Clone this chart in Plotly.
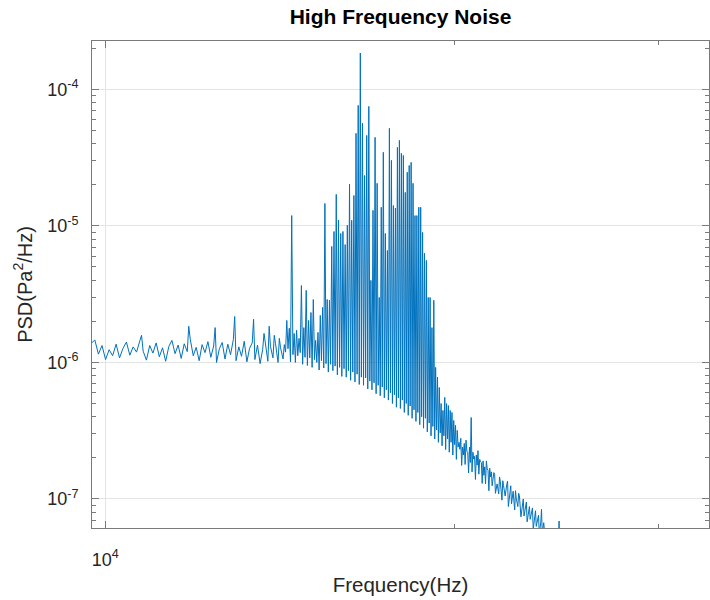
import plotly.graph_objects as go

# ---- noise-floor bins (Hz) lying between the tonal lines ----
noise_freq = [
    9723, 9794, 9864, 9935, 10005, 10076, 10146, 10217, 10287, 10358,
    10428, 10499, 10569, 10640, 10710, 10781, 10851, 10922, 10992, 11063,
    11133, 11204, 11274, 11345, 11415, 11486, 11556, 11627, 11697, 11768,
    11838, 11909, 11979, 12050, 12120, 12191, 12261, 12332, 12402, 12473,
    12543, 12614, 12684, 12755, 12825, 12896, 12966, 13037, 13107, 13178,
    13248, 13319, 13389, 13460, 13530, 13601, 13671, 13742, 13812, 13883,
    13953, 14024, 14094, 14165, 14235, 14306, 14376, 14447,
    14517, 14588, 14658, 14729, 14799, 14870, 14940, 15011, 15081, 15152,
    15222, 15293, 15363, 15434, 15504, 15575, 15645, 15716, 15786, 15857,
    15927, 15998, 16068, 16139, 16209, 16280, 16350, 16421, 16491, 16562,
    16632, 16703, 16773, 16844, 16914, 16985, 17055, 17126, 17196, 17267,
    17337, 17408, 17478, 17549, 17619, 17690, 17760, 17831, 17901, 17972,
    18042, 18113, 18183, 18254, 18324, 18395, 18465, 18536, 18606, 18677,
    18747, 18818, 18888, 18959, 19029, 19100, 19170, 19241, 19311, 19382,
    19452, 19523, 19593, 19664, 19734, 19805, 19875, 19946, 20016, 20087,
    20157, 20228, 20298, 20369, 20439, 20510, 20580, 20651, 20721, 20792,
    20862, 20933, 21003, 21074, 21144, 21215, 21285, 21356, 21426, 21497,
    21567, 21638, 21708, 21779, 21849, 21920, 21990, 22061, 22131, 22202,
    22272, 22343, 22413, 22484, 22554, 22625, 22695, 22766, 22836, 22907,
    22977, 23048, 23118, 23189, 23259, 23330, 23400, 23471, 23541, 23612,
    23682, 23753, 23823, 23894, 23964, 24035, 24105, 24176, 24246, 24317,
    24387, 24458, 24528, 24599, 24669, 24740,
]
noise_psd = [
    1.38e-6, 1.46e-6, 1.15e-6, 1.33e-6, 1.05e-6, 1.24e-6, 1.12e-6, 1.36e-6, 1.08e-6, 1.27e-6,
    1.41e-6, 1.13e-6, 1.30e-6, 1.19e-6, 1.44e-6, 1.21e-6, 1.04e-6, 1.33e-6, 1.17e-6, 1.39e-6,
    1.10e-6, 1.28e-6, 1.02e-6, 1.31e-6, 1.45e-6, 1.16e-6, 1.34e-6, 1.07e-6, 1.37e-6, 1.20e-6,
    1.48e-6, 1.12e-6, 1.29e-6, 1.03e-6, 1.35e-6, 1.18e-6, 1.42e-6, 1.09e-6, 1.32e-6, 1.00e-6,
    1.26e-6, 1.40e-6, 1.06e-6, 1.36e-6, 1.14e-6, 1.47e-6, 1.03e-6, 1.30e-6, 1.11e-6, 1.43e-6,
    1.01e-6, 1.27e-6, 1.39e-6, 1.05e-6, 1.34e-6, 9.8e-7, 1.25e-6, 1.41e-6, 1.02e-6, 1.31e-6,
    1.08e-6, 1.37e-6, 1.00e-6, 1.28e-6, 1.06e-6, 1.19e-6, 1.26e-6, 1.01e-6,
    1.14e-6, 1.00e-6, 1.12e-6, 1.18e-6, 9.7e-7, 1.09e-6, 9.5e-7, 1.08e-6, 9.2e-7, 1.05e-6,
    1.00e-6, 8.8e-7, 1.03e-6, 9.1e-7, 9.8e-7, 8.5e-7, 9.7e-7, 8.7e-7, 9.4e-7, 8.1e-7,
    9.2e-7, 7.9e-7, 9.0e-7, 7.8e-7, 8.7e-7, 7.4e-7, 8.5e-7, 7.2e-7, 8.2e-7, 6.9e-7,
    7.8e-7, 6.8e-7, 7.7e-7, 6.4e-7, 7.3e-7, 6.3e-7, 7.1e-7, 5.9e-7, 6.8e-7, 5.7e-7,
    6.6e-7, 5.5e-7, 6.3e-7, 5.3e-7, 6.0e-7, 5.0e-7, 5.8e-7, 4.7e-7, 5.5e-7, 4.6e-7,
    5.3e-7, 4.3e-7, 5.0e-7, 4.1e-7, 4.8e-7, 3.9e-7, 4.5e-7, 3.7e-7, 4.3e-7, 3.5e-7,
    4.0e-7, 3.3e-7, 3.9e-7, 3.1e-7, 3.6e-7, 2.9e-7, 3.4e-7, 2.75e-7, 3.2e-7, 2.6e-7,
    3.05e-7, 2.45e-7, 2.9e-7, 2.3e-7, 2.75e-7, 2.2e-7, 2.6e-7, 2.1e-7, 2.5e-7, 1.95e-7,
    2.4e-7, 2.31e-7, 1.76e-7, 2.10e-7, 1.79e-7, 2.24e-7, 1.55e-7, 1.85e-7, 1.58e-7, 1.96e-7,
    1.39e-7, 1.77e-7, 1.52e-7, 1.87e-7, 1.30e-7, 1.49e-7, 1.29e-7, 1.66e-7, 1.15e-7, 1.45e-7,
    1.25e-7, 1.56e-7, 1.10e-7, 1.29e-7, 1.09e-7, 1.34e-7, 9.8e-8, 1.25e-7, 1.05e-7, 1.28e-7,
    8.8e-8, 1.08e-7, 9.2e-8, 1.14e-7, 8.3e-8, 1.01e-7, 8.8e-8, 1.06e-7, 7.4e-8, 8.8e-8,
    7.5e-8, 9.2e-8, 6.8e-8, 8.4e-8, 7.1e-8, 8.6e-8, 6.0e-8, 7.4e-8, 6.3e-8, 7.5e-8,
    5.6e-8, 6.7e-8, 5.6e-8, 6.7e-8, 5.1e-8, 6.0e-8, 5.2e-8, 6.0e-8, 4.7e-8, 5.4e-8,
    4.7e-8, 5.4e-8, 4.3e-8, 4.8e-8, 4.1e-8, 4.6e-8,
]

# ---- tonal lines (Hz) and their peak PSD ----
tone_freq = [
    10746, 11803, 12438, 12931, 13425, 13707, 13848, 13989, 14130,
    14271, 14341, 14412,
    14482, 14553, 14623, 14694, 14764, 14835, 14905, 14976, 15046, 15117,
    15187, 15258, 15328, 15399, 15469, 15540, 15610, 15681, 15751, 15822,
    15892, 15963, 16033, 16104, 16174, 16245, 16315, 16386, 16456, 16527,
    16597, 16668, 16738, 16809, 16879, 16950, 17020, 17091, 17161, 17232,
    17302, 17373, 17443, 17514, 17584, 17655, 17725, 17796, 17866, 17937,
    18007, 18078, 18148, 18219, 18289, 18360, 18430, 18501, 18571, 18642,
    18712, 18783, 18853, 18924, 18994, 19065, 19135, 19206, 19276, 19347,
    19417, 19488, 19558, 19629, 19699, 19770, 19840, 19911, 19981, 20052,
    20122, 20193, 20263, 20334, 20404, 20475, 20545, 20616, 20686, 20757,
    20827, 20898, 20968, 21039, 21109, 21180, 21250, 21321, 21391, 21462,
    21532, 21673, 21885, 22026, 22237, 22378, 22590, 22731, 22942, 23083,
    23224, 23365, 23506, 23647, 23788, 24070, 24352, 24634,
]
tone_psd = [
    1.58e-6, 1.84e-6, 1.80e-6, 2.17e-6, 2.07e-6, 1.63e-6, 1.84e-6, 1.58e-6, 1.50e-6,
    1.35e-6, 2.03e-6, 1.78e-6,
    1.19e-5, 1.63e-6, 1.72e-6, 1.50e-6, 3.66e-6, 1.80e-6, 3.37e-6, 2.03e-6, 2.32e-6, 2.89e-6,
    1.45e-6, 1.66e-6, 2.21e-6, 2.53e-6, 1.46e-5, 2.89e-6, 2.85e-6, 7.07e-6, 9.1e-6, 1.70e-5,
    1.10e-5, 8.8e-6, 9.1e-6, 7.3e-6, 1.01e-5, 2.02e-5, 1.10e-5, 1.67e-5, 4.76e-5, 7.63e-5,
    1.845e-4, 5.64e-5, 2.34e-5, 4.6e-5, 7.5e-5, 3.99e-6, 1.30e-5, 4.45e-5, 2.05e-5, 2.99e-6,
    1.37e-5, 3.46e-5, 8.8e-6, 6.6e-6, 5.18e-5, 3.02e-5, 1.41e-5, 1.35e-5, 3.76e-5, 4.23e-5,
    3.40e-5, 3.28e-5, 1.76e-5, 2.47e-5, 2.77e-5, 2.92e-5, 2.05e-5, 1.19e-5, 1.19e-5, 1.37e-5,
    1.37e-5, 8.96e-6, 6.3e-6, 5.59e-6, 2.99e-6, 2.99e-6, 1.80e-6, 2.85e-6, 9.2e-7, 7.8e-7,
    6.55e-7, 5.0e-7, 4.45e-7, 5.55e-7, 5.0e-7, 4.84e-7, 4.45e-7, 4.3e-7, 3.76e-7, 3.46e-7,
    3.18e-7, 2.6e-7, 2.78e-7, 2.4e-7, 2.55e-7, 2.7e-7, 2.2e-7, 2.4e-7, 3.95e-7, 2.2e-7,
    2.05e-7, 2.1e-7, 2.26e-7, 1.95e-7, 1.85e-7, 1.9e-7, 1.72e-7, 1.9e-7, 1.62e-7, 1.68e-7,
    1.58e-7, 1.52e-7, 1.45e-7, 1.36e-7, 1.35e-7, 1.25e-7, 1.15e-7, 1.1e-7, 1.0e-7, 9.5e-8,
    8.8e-8, 8.6e-8, 8.2e-8, 7.6e-8, 8.4e-8, 5.9e-8, 5.4e-8, 6.9e-8,
]

x_ticks = [1e4]
x_tick_text = ["10<sup>4</sup>"]
x_minor = [2e4, 3e4]
y_ticks = [1e-7, 1e-6, 1e-5, 1e-4]
y_tick_text = ["10<sup>-7</sup>", "10<sup>-6</sup>", "10<sup>-5</sup>", "10<sup>-4</sup>"]
y_minor = [m * 10.0 ** e for e in (-8, -7, -6, -5, -4) for m in range(2, 10)]

pts = sorted(zip(noise_freq + tone_freq, noise_psd + tone_psd))
freq = [p[0] for p in pts]
psd = [p[1] for p in pts]

FONT = "Liberation Sans, Arial, Helvetica, sans-serif"
AX = "#7a7a7a"
GRID = "#e4e4e4"

fig = go.Figure(go.Scatter(x=freq, y=psd, mode="lines",
                           line=dict(color="#0072BD", width=1), hoverinfo="skip"))

common = dict(showline=True, linecolor=AX, linewidth=1, mirror="ticks",
              ticks="inside", ticklen=7, tickwidth=1, tickcolor=AX,
              showgrid=True, gridcolor=GRID, gridwidth=1, zeroline=False,
              tickfont=dict(family=FONT, size=18, color="#262626"),
              automargin=False)

fig.update_layout(
    width=710, height=600,
    margin=dict(l=92, r=1, t=41, b=72),
    paper_bgcolor="white", plot_bgcolor="white",
    showlegend=False,
    font=dict(family=FONT, color="#262626"),
    title=dict(text="<b>High Frequency Noise</b>", x=0.5, xref="paper", xanchor="center",
               y=1 - 17 / 600, yref="container", yanchor="middle",
               font=dict(family=FONT, size=21, color="#000000")),
    xaxis=dict(type="log", range=[3.98851, 4.52088],
               tickmode="array", tickvals=x_ticks, ticktext=x_tick_text,
               ticklabelstandoff=15,
               minor=dict(tickmode="array", tickvals=x_minor, ticks="inside",
                          ticklen=4, tickcolor=AX, showgrid=False),
               title=dict(text="Frequency(Hz)", standoff=9,
                          font=dict(family=FONT, size=20.5, color="#262626")),
               **common),
    yaxis=dict(type="log", range=[-7.2125, -3.646],
               tickmode="array", tickvals=y_ticks, ticktext=y_tick_text,
               ticklabelstandoff=9,
               minor=dict(tickmode="array", tickvals=y_minor, ticks="inside",
                          ticklen=4, tickcolor=AX, showgrid=False),
               title=dict(text="PSD(Pa<sup>2</sup>/Hz)", standoff=9,
                          font=dict(family=FONT, size=20, color="#262626")),
               **common),
)

fig.write_html("out.html")
